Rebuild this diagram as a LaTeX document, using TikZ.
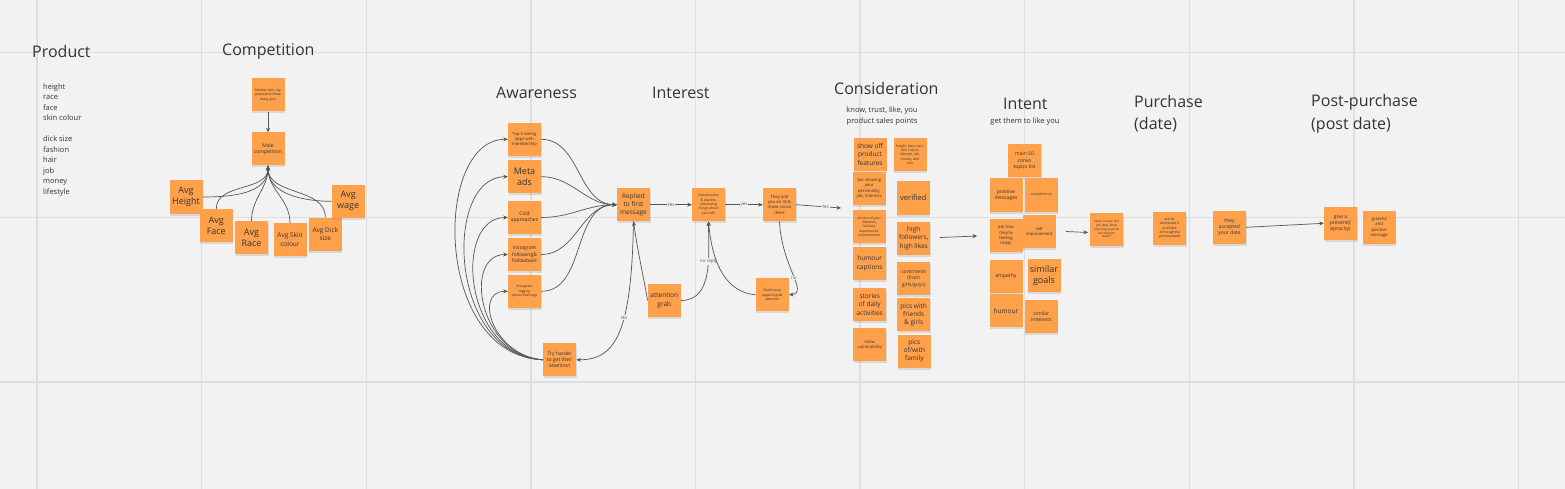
\documentclass[tikz,border=0pt]{standalone}
\usepackage{fontspec}
\setmainfont{Open Sans}
\usetikzlibrary{shadows,arrows.meta}
\definecolor{bg}{HTML}{F2F2F2}
\definecolor{gridc}{HTML}{DEDEDE}
\definecolor{sticky}{HTML}{FFA04A}
\definecolor{ink}{HTML}{333333}
\definecolor{edgec}{HTML}{555555}
\tikzset{
 note/.style={fill=sticky, minimum width=33pt, minimum height=33pt, inner sep=1pt, align=center, text=ink,
   drop shadow={opacity=0.22,shadow xshift=0.6pt,shadow yshift=-2pt}},
 ttl/.style={font=\fontsize{16}{19}\selectfont, text=ink, anchor=west, inner sep=0pt},
 subttl/.style={font=\fontsize{7.5}{11.5}\selectfont, text=ink, align=center, inner sep=0pt},
 conn/.style={draw=edgec, line width=0.7pt, -{Stealth[length=4.5pt,width=4pt]}},
 elabel/.style={fill=bg, font=\fontsize{4.5}{5}\selectfont, text=edgec, inner sep=1pt},
 fXL/.style={font=\fontsize{9}{11}\selectfont},
 fL/.style={font=\fontsize{6.5}{8.3}\selectfont},
 fM/.style={font=\fontsize{5}{6.3}\selectfont},
 fS/.style={font=\fontsize{4.2}{5.3}\selectfont},
 fXS/.style={font=\fontsize{3.4}{4.3}\selectfont},
}
\begin{document}
\begin{tikzpicture}[x=1pt,y=1pt]
\fill[bg] (0,0) rectangle (1565,-489);
\useasboundingbox (0,0) rectangle (1565,-489);
\foreach \k in {0,...,9} {\draw[gridc, line width=1.4pt] ({37+164.6*\k},0) -- ({37+164.6*\k},-489);}
\foreach \yy in {52.7,217.3,381.9} {\draw[gridc, line width=1.4pt] (0,-\yy) -- (1565,-\yy);}

% titles
\node[ttl] (tProduct) at (32,-52) {Product};
\node[ttl] (tCompetition) at (222,-52) {Competition};
\node[ttl] (tAwareness) at (496,-93) {Awareness};
\node[ttl] (tInterest) at (652,-93) {Interest};
\node[ttl] (tConsideration) at (834,-89) {Consideration};
\node[subttl] (sConsideration) at (882,-116) {know, trust, like, you\\product sales points};
\node[ttl] (tIntent) at (1003,-104) {Intent};
\node[subttl] (sIntent) at (1025,-122) {get them to like you};
\node[ttl] (tPurchase) at (1134,-102) {Purchase};
\node[ttl] (tPurchase2) at (1134,-125) {(date)};
\node[ttl] (tPost) at (1311,-102) {Post-purchase};
\node[ttl] (tPost2) at (1311,-125) {(post date)};

\node[anchor=north west, inner sep=0pt, align=left, text=ink, font=\fontsize{7.5}{10.5}\selectfont] (plist) at (43,-83.2)
 {height\\race\\face\\skin colour\\[10.5pt]dick size\\fashion\\hair\\job\\money\\lifestyle};

% competition
\node[note,fXS] (market) at (268,-95) {Market size: city\\population/how\\many girls};
\node[note,fM] (male) at (268,-149) {Male\\competition};
\node[note,fXL] (height) at (186,-197) {Avg\\Height};
\node[note,fXL] (face) at (216.3,-225.5) {Avg\\Face};
\node[note,fXL] (race) at (251.5,-237.5) {Avg\\Race};
\node[note,fL] (skin) at (290,-239.7) {Avg Skin\\colour};
\node[note,fL] (dick) at (325.3,-234) {Avg Dick\\size};
\node[note,fXL] (wage) at (348.2,-201.3) {Avg\\wage};
\draw[conn] (market.south) -- (male.north);
\draw[conn] (height.east) to[out=0,in=-90] (male.south);
\draw[conn] (face.north) to[out=90,in=-90] (male.south);
\draw[conn] (race.north) to[out=90,in=-90] (male.south);
\draw[conn] (skin.north) to[out=90,in=-90] (male.south);
\draw[conn] (dick.north) to[out=90,in=-90] (male.south);
\draw[conn] (wage.west) to[out=180,in=-90] (male.south);

% awareness
\node[note,fS] (top5) at (524.5,-139.3) {Top 5 dating\\apps with\\membership};
\node[note,fXL] (meta) at (524.5,-176.7) {Meta\\ads};
\node[note,fM] (cold) at (524.5,-217.5) {Cold\\approaches};
\node[note,fM] (igf) at (524.5,-254.5) {Instagram\\following\&\\followback};
\node[note,fXS] (igt) at (524.5,-291.3) {Instagram\\tagging\\places/hashtags};
\node[note,fM] (try) at (559.7,-359.8) {Try harder\\to get their\\attention};

% interest
\node[note,fL] (replied) at (633.5,-204.7) {Replied\\to first\\message};
\node[note,fXS] (conv) at (708.5,-204.7) {Conversation\\\& express\\interesting\\things about\\yourself!};
\node[note,fS] (add) at (779.5,-204.7) {They add\\you on IG \&\\move convo\\there};
\node[note,fL] (attn) at (664.3,-300.5) {attention\\grab};
\node[note,fXS] (rapport) at (772.3,-294.8) {Build more\\rapport/grab\\attention};
\coordinate (cin) at (841,-208);

\foreach \n/\a/\b in {top5/-110/-75, meta/-95/-65, cold/-80/-55, igf/-65/-45, igt/-50/-35}
 {\draw[conn] (\n.east) to[out=0,in=180] (replied.west);
  \draw[conn] (try.west) .. controls +(\a,4) and +(\b,0) .. (\n.west);}
\draw[conn] (replied.south) .. controls +(-2,-110) and +(40,0) .. node[elabel,pos=0.4]{No} (try.east);
\draw[conn] (attn.west) to[out=100,in=-82] (replied.south);
\draw[conn] (attn.east) to[out=0,in=-90] node[elabel,pos=0.62]{no reply} (conv.south);
\draw[conn] (replied.east) -- node[elabel]{Yes} (conv.west);
\draw[conn] (conv.east) -- node[elabel]{yes} (add.west);
\draw[conn] (add.east) -- node[elabel,pos=0.65]{Yes} (cin);
\draw[conn] (add.south) .. controls +(2,-45) and +(20,2) .. node[elabel,pos=0.55]{no} (rapport.east);
\draw[conn] (rapport.west) to[out=175,in=-85] (conv.south);

% consideration
\node[note,fL] (show) at (870,-154.3) {show off\\product\\features};
\node[note,fS] (bio) at (869.3,-188.3) {bio showing\\your\\personality,\\job, interests};
\node[note,fXS] (photos) at (869.3,-226.5) {photos of your\\interests,\\hobbies,\\experiences,\\achievements};
\node[note,fL] (humourc) at (869.7,-263.3) {humour\\captions};
\node[note,fL] (stories) at (869.7,-304.5) {stories\\of daily\\activities};
\node[note,fS] (vuln) at (869.7,-344.8) {show\\vulnerability};
\node[note,fXS] (hfrs) at (910,-154.5) {height, face, race,\\skin colour,\\lifestyle, job,\\money, dick\\size};
\node[note,font=\fontsize{7.5}{9}\selectfont] (verified) at (913.3,-198) {verified};
\node[note,fL] (highf) at (913.7,-238.3) {high\\followers,\\high likes};
\node[note,fM] (comments) at (913.7,-278.7) {comments\\(from\\girls/guys)};
\node[note,fL] (friends) at (913.7,-314.8) {pics with\\friends\\\& girls};
\node[note,fL] (family) at (914.3,-351) {pics\\of/with\\family};
\coordinate (cout) at (940,-237.5);
\coordinate (iin) at (977,-236);
\draw[conn] (cout) -- (iin);

% intent
\node[note,fM] (main50) at (1024.5,-161) {main 50\\convo\\topics list};
\node[note,fM] (positive) at (1006,-195) {positive\\messages};
\node[note,fXS] (compl) at (1041.3,-195) {compliments};
\node[note,fS] (askhow) at (1006,-235.7) {ask how\\they're\\feeling\\today};
\node[note,fS] (selfimp) at (1039.2,-231.7) {self\\improvement};
\node[note,fM] (empathy) at (1006,-276) {empathy};
\node[note,fXL] (goals) at (1044,-275.7) {similar\\goals};
\node[note,fL] (humour) at (1006,-310.7) {humour};
\node[note,fM] (interests) at (1041.3,-316.3) {similar\\interests};
\coordinate (iout) at (1066,-231.5);
\coordinate (pin) at (1088,-232.5);
\draw[conn] (iout) -- (pin);

% purchase
\node[note,font=\fontsize{3}{3.9}\selectfont] (makeit) at (1106.7,-229) {Make it seem like\\you date, know\\how long you'd be\\there before\\date??};
\node[note,fXS] (askdate) at (1169.7,-228.3) {ask for\\date(make it\\available\\of thoughtful\\personalized)};
\node[note,fM] (accepted) at (1229.5,-227.3) {they\\accepted\\your date};
\node[note,fM] (present) at (1340.5,-223.3) {give a\\present(r\\eprocity)};
\node[note,fS] (grateful) at (1379.2,-227.3) {grateful\\and\\positive\\message};
\draw[conn] (accepted.east) -- (present.west);
\end{tikzpicture}
\end{document}
